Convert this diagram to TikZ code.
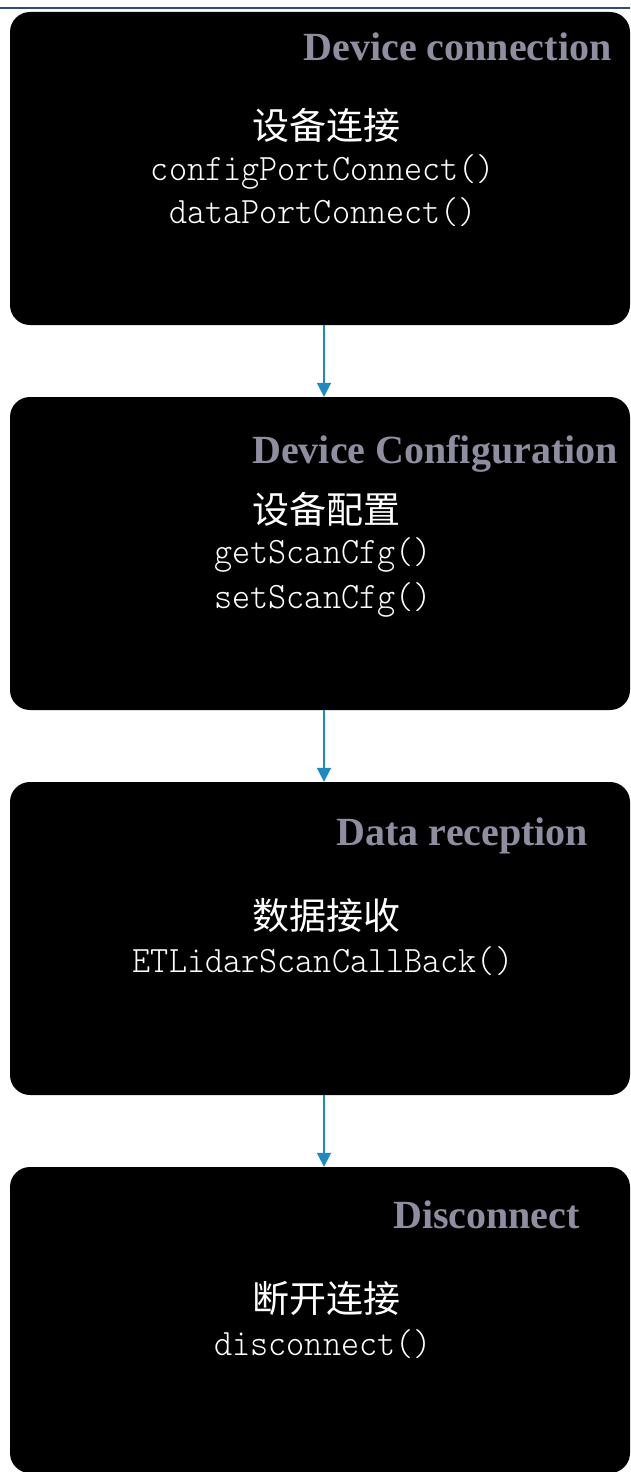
\documentclass[tikz,border=0pt]{standalone}
\usepackage{fontspec}
\setmainfont{Liberation Serif}
\newfontfamily\cjk{Noto Sans CJK SC}
\newfontfamily\codefont{lmmonolt10-regular.otf}
\usetikzlibrary{arrows.meta}
\definecolor{titlegray}{HTML}{8E8EA0}
\definecolor{flowblue}{HTML}{1F8AC0}
\definecolor{rulenavy}{HTML}{2F4B7C}
% API call names, set slightly taller than the plain mono face
\newcommand{\apicall}[1]{\scalebox{1}[1.08]{#1}}
\tikzset{
  stage/.style={fill=black, draw=none, rounded corners=20pt, minimum width=620pt, inner sep=0pt},
  stagetitle/.style={text=titlegray, font=\fontsize{40}{40}\selectfont\bfseries, inner sep=0pt, anchor=base},
  cnlabel/.style={text=white, font=\cjk\fontsize{37}{37}\selectfont, inner sep=0pt},
  codeline/.style={text=white, font=\codefont\fontsize{34.5}{34.5}\selectfont, inner sep=0pt, anchor=base},
  flow/.style={draw=flowblue, line width=1.8pt, -{Triangle[length=14pt,width=14pt]}}
}
\begin{document}
\begin{tikzpicture}[x=1pt,y=-1pt]
  \useasboundingbox (0,0) rectangle (630,1472);
  % rule along the top
  \coordinate (ruleL) at (0,8);
  \coordinate (ruleR) at (630,8);
  \draw[rulenavy, line width=1.5pt] (ruleL) -- (ruleR);

  % stage boxes
  \node[stage, minimum height=313pt] (s1) at (320,168.5) {};
  \node[stage, minimum height=313pt] (s2) at (320,553.5) {};
  \node[stage, minimum height=313pt] (s3) at (320,938.5) {};
  \node[stage, minimum height=306pt] (s4) at (320,1320) {};

  % stage 1
  \node[stagetitle] (t1) at (457.5,61) {Device connection};
  \node[cnlabel] (c1) at (326,125) {设备连接};
  \node[codeline] (k1a) at (323,180) {\apicall{configPortConnect()}};
  \node[codeline] (k1b) at (323,223) {\apicall{dataPortConnect()}};

  % stage 2
  \node[stagetitle] (t2) at (435,463) {Device Configuration};
  \node[cnlabel] (c2) at (326,509) {设备配置};
  \node[codeline] (k2a) at (323,563) {\apicall{getScanCfg()}};
  \node[codeline] (k2b) at (323,608) {\apicall{setScanCfg()}};

  % stage 3
  \node[stagetitle] (t3) at (462.5,845) {Data reception};
  \node[cnlabel] (c3) at (326,915) {数据接收};
  \node[codeline] (k3a) at (323,972) {\apicall{ETLidarScanCallBack()}};

  % stage 4
  \node[stagetitle] (t4) at (486.5,1228) {Disconnect};
  \node[cnlabel] (c4) at (326,1298) {断开连接};
  \node[codeline] (k4a) at (323,1355) {\apicall{disconnect()}};

  % flow between stages
  \draw[flow] (s1.south -| 324,0) -- (s2.north -| 324,0);
  \draw[flow] (s2.south -| 324,0) -- (s3.north -| 324,0);
  \draw[flow] (s3.south -| 324,0) -- (s4.north -| 324,0);
\end{tikzpicture}
\end{document}
